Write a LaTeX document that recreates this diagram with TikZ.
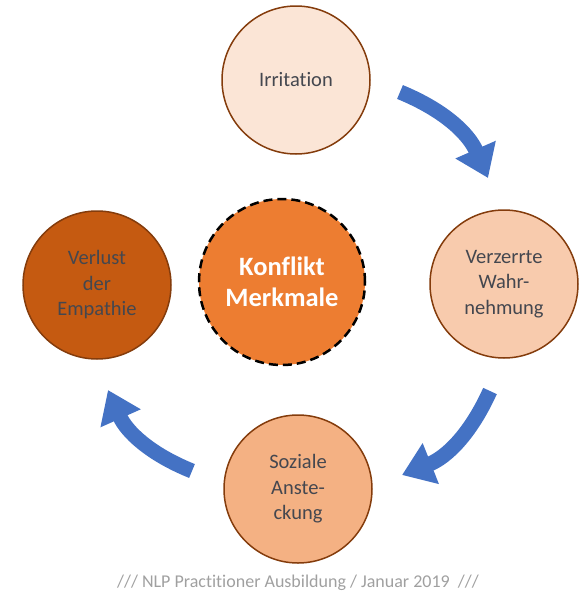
\documentclass[tikz,border=0pt]{standalone}
\usepackage{fontspec}
\setmainfont{Carlito}[Ligatures=NoCommon]
\usepackage{tikz}
\usetikzlibrary{arrows.meta}
\definecolor{rimbrown}{HTML}{843C0C}
\definecolor{textgray}{HTML}{44474F}
\definecolor{arrowblue}{HTML}{4472C4}
\definecolor{footgray}{HTML}{A0A0A0}

\begin{document}
\begin{tikzpicture}[x=1pt, y=-1pt,
  stage/.style={circle, draw=rimbrown, line width=1.5pt, minimum size=148pt,
    inner sep=0pt, align=center, text=textgray, font=\fontsize{20.5}{25.5}\selectfont},
  core/.style={circle, draw=black, line width=2.5pt, dash pattern=on 9pt off 5pt,
    fill={rgb,255:red,237;green,125;blue,49}, minimum size=166pt, inner sep=0pt,
    align=center, text=white, font=\fontsize{26.5}{31}\selectfont\bfseries},
  cyclearrow/.style={draw=arrowblue, line width=15pt,
    -{Triangle[length=31pt, width=42pt]}}]
\useasboundingbox (0,0) rectangle (583,603);
% circles
\node[stage, fill={rgb,255:red,251;green,229;blue,214}] (irr) at (296, 80) {Irritation};
\node[stage, fill={rgb,255:red,248;green,203;blue,173}] (verz) at (504, 284) {Verzerrte\\Wahr-\\nehmung};
\node[stage, fill={rgb,255:red,244;green,177;blue,131}] (soz) at (298, 489) {Soziale\\Anste-\\ckung};
\node[stage, fill={rgb,255:red,197;green,90;blue,17}] (verl) at (97, 285) {Verlust\\der\\Empathie};
\node[core] (konf) at (282, 282) {Konflikt\\Merkmale};
% arrows
\coordinate (a1s) at (400, 92);
\coordinate (a1e) at (488, 178);
\coordinate (a2s) at (490, 391);
\coordinate (a2e) at (402, 475);
\coordinate (a3s) at (192, 471);
\coordinate (a3e) at (108, 390);
\draw[cyclearrow] (a1s) to[bend left=22] (a1e);
\draw[cyclearrow] (a2s) to[bend left=22] (a2e);
\draw[cyclearrow] (a3s) to[bend left=22] (a3e);
% footer
\node[text=footgray, font=\fontsize{18}{20}\selectfont] (foot) at (298, 583)
  {/// NLP Practitioner Ausbildung / Januar 2019~~///};
\end{tikzpicture}
\end{document}
